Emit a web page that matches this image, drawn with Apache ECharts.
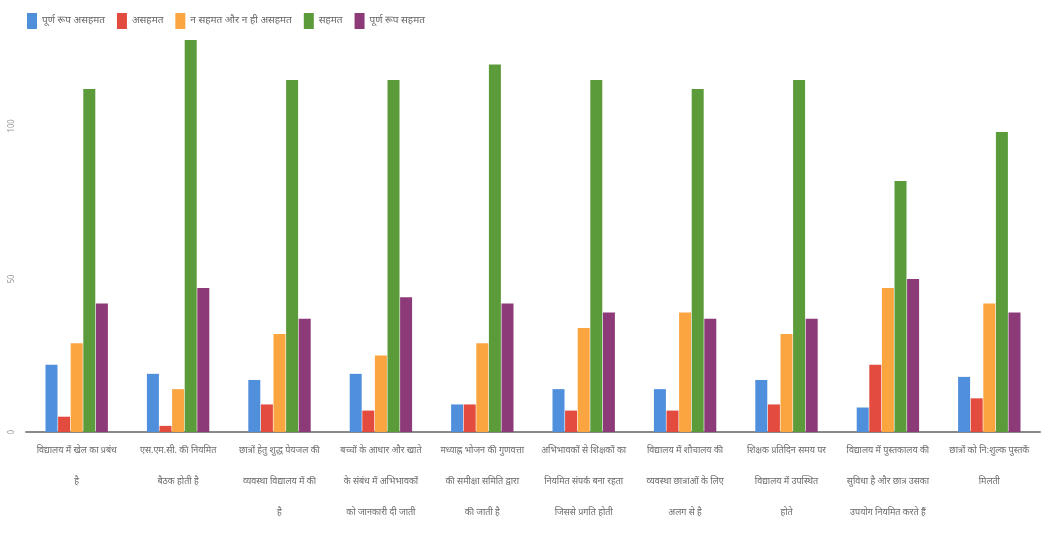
<!DOCTYPE html>
<html>
<head>
<meta charset="utf-8">
<script src="https://cdn.jsdelivr.net/npm/echarts@6/dist/echarts.min.js"></script>
<style>
html,body{margin:0;padding:0;background:#fff;}
#chart{width:1064px;height:547px;}
</style>
</head>
<body>
<div id="chart"></div>
<script>
const seriesNames = ['पूर्ण रूप असहमत', 'असहमत', 'न सहमत और न ही असहमत', 'सहमत', 'पूर्ण रूप सहमत'];
const categories = [
  'विद्यालय में खेल का प्रबंध\nहै',
  'एस.एम.सी. की नियमित\nबैठक होती है',
  'छात्रों हेतु शुद्ध पेयजल की\nव्यवस्था विद्यालय में की\nहै',
  'बच्चों के आधार और खाते\nके संबंध में अभिभावकों\nको जानकारी दी जाती',
  'मध्याह्न भोजन की गुणवत्ता\nकी समीक्षा समिति द्वारा\nकी जाती है',
  'अभिभावकों से शिक्षकों का\nनियमित संपर्क बना रहता\nजिससे प्रगति होती',
  'विद्यालय में शौचालय की\nव्यवस्था छात्राओं के लिए\nअलग से है',
  'शिक्षक प्रतिदिन समय पर\nविद्यालय में उपस्थित\nहोते',
  'विद्यालय में पुस्तकालय की\nसुविधा है और छात्र उसका\nउपयोग नियमित करते हैं',
  'छात्रों को नि:शुल्क पुस्तकें\nमिलती'
];
const stronglyDisagree = [22, 19, 17, 19, 9, 14, 14, 17, 8, 18];
const disagree         = [5, 2, 9, 7, 9, 7, 7, 9, 22, 11];
const neutral          = [29, 14, 32, 25, 29, 34, 39, 32, 47, 42];
const agree            = [112, 128, 115, 115, 120, 115, 112, 115, 82, 98];
const stronglyAgree    = [42, 47, 37, 44, 42, 39, 37, 37, 50, 39];
const yTicks = [0, 50, 100];

const colors = ['#4f8fdc', '#e34b3e', '#fba540', '#5c9b3a', '#8c3b78'];
const font = "'Noto Sans Devanagari', 'Noto Sans', 'Lohit Devanagari', sans-serif";
const values = [stronglyDisagree, disagree, neutral, agree, stronglyAgree];

const chart = echarts.init(document.getElementById('chart'));
chart.setOption({
  animation: false,
  textStyle: { fontFamily: font },
  color: colors,
  legend: {
    left: 22, top: 8,
    itemWidth: 10, itemHeight: 16, itemGap: 12,
    icon: 'rect',
    textStyle: { fontSize: 10, color: '#666', fontFamily: font },
    data: seriesNames
  },
  grid: { left: 26, right: 24, top: 34, bottom: 115, containLabel: false },
  xAxis: {
    type: 'category',
    data: categories,
    axisLine: { show: true, lineStyle: { color: '#8a8a8a', width: 2 } },
    axisTick: { show: false },
    axisLabel: {
      interval: 0, color: '#6a6a6a', fontSize: 9, lineHeight: 31,
      margin: 4, fontFamily: font
    }
  },
  yAxis: {
    type: 'value', min: 0, max: 130, interval: 50,
    axisLine: { show: false },
    axisTick: { show: false },
    splitLine: { show: false },
    axisLabel: {
      showMaxLabel: false, rotate: 90, fontSize: 8, color: '#999', margin: 10,
      formatter: v => yTicks.includes(v) ? String(v) : ''
    }
  },
  series: seriesNames.map((n, i) => ({
    name: n, type: 'bar', data: values[i],
    barWidth: 12, barGap: '5%',
    itemStyle: { color: colors[i] }
  }))
});
</script>
</body>
</html>
